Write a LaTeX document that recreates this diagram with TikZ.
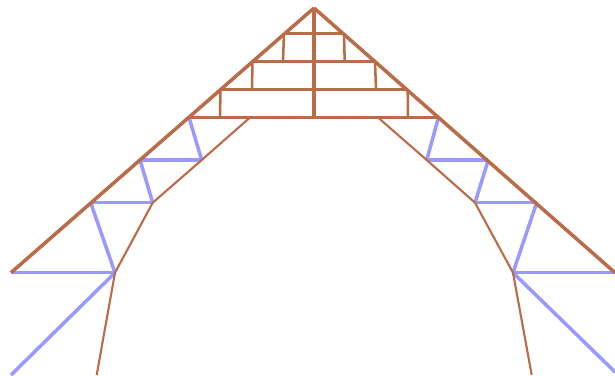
\documentclass[tikz,border=0pt]{standalone}
\usepackage{tikz}
\definecolor{TrussBrown}{RGB}{186,108,72}
\definecolor{TrussBlue} {RGB}{153,153,255}

\begin{document}
\begin{tikzpicture}[
  rafter/.style={
    TrussBrown, line width=1pt},
  post/.style={
    TrussBrown, line width=1.25pt},
  chord/.style={
    TrussBrown, line width=0.72pt},
  lower/.style={
    TrussBrown, line width=0.6pt},
  brace/.style={
    TrussBlue, line width=1pt}
]
\useasboundingbox (0,0) rectangle (6.15,3.75);

% top of the roof
\coordinate (apex) at (3.14,3.67);
\coordinate (mid4) at (3.14,2.575);
\coordinate (mid3) at (3.14,2.855);
\coordinate (mid2) at (3.14,3.135);
\coordinate (mid1) at (3.14,3.415);

% left side
\coordinate (la1) at (2.84,3.415);
\coordinate (la2) at (2.525,3.135);
\coordinate (la3) at (2.205,2.855);
\coordinate (la4) at (1.89,2.575);
\coordinate (la5) at (1.40,2.15);
\coordinate (la6) at (0.907,1.723);
\coordinate (la7) at (0.11,1.023);
\coordinate (lv1) at (2.83,3.135);
\coordinate (lv2) at (2.52,2.855);
\coordinate (lv3) at (2.20,2.575);
\coordinate (lb1) at (2.50,2.575);
\coordinate (lb2) at (2.017,2.15);
\coordinate (lb3) at (1.527,1.723);
\coordinate (lb4) at (1.15,1.023);
\coordinate (lb5) at (0.967,0);
\coordinate (lf1) at (0.11,0);

% right side
\coordinate (ra1) at (3.44,3.415);
\coordinate (ra2) at (3.75,3.135);
\coordinate (ra3) at (4.077,2.855);
\coordinate (ra4) at (4.385,2.575);
\coordinate (ra5) at (4.883,2.15);
\coordinate (ra6) at (5.367,1.723);
\coordinate (ra7) at (6.15,1.023);
\coordinate (rv1) at (3.447,3.135);
\coordinate (rv2) at (3.76,2.855);
\coordinate (rv3) at (4.08,2.575);
\coordinate (rb1) at (3.78,2.575);
\coordinate (rb2) at (4.267,2.15);
\coordinate (rb3) at (4.75,1.723);
\coordinate (rb4) at (5.13,1.023);
\coordinate (rb5) at (5.317,0);
\coordinate (rf1) at (6.15,0.03);

% bracing
\foreach \a/\b in
  {la7/lb4,la6/lb3,la5/lb2,la6/lb4,la5/lb3,la4/lb2,lb4/lf1,
   ra7/rb4,ra6/rb3,ra5/rb2,ra6/rb4,ra5/rb3,ra4/rb2,rb4/rf1}{
  \draw[brace] (\a) -- (\b);
}

% lower curve
\draw[lower] (lb1) -- (lb2) -- (lb3) -- (lb4) -- (lb5);
\draw[lower] (rb1) -- (rb2) -- (rb3) -- (rb4) -- (rb5);

% horizontal members
\foreach \a/\b in {la1/ra1,la2/ra2,la3/ra3,la4/ra4}{
  \draw[chord] (\a) -- (\b);
}

% hangers
\foreach \a/\b in {la1/lv1,la2/lv2,la3/lv3,ra1/rv1,ra2/rv2,ra3/rv3}{
  \draw[chord] (\a) -- (\b);
}

\draw[post] (apex) -- (mid4);
\draw[rafter] (apex) -- (la7);
\draw[rafter] (apex) -- (ra7);
\end{tikzpicture}
\end{document}
